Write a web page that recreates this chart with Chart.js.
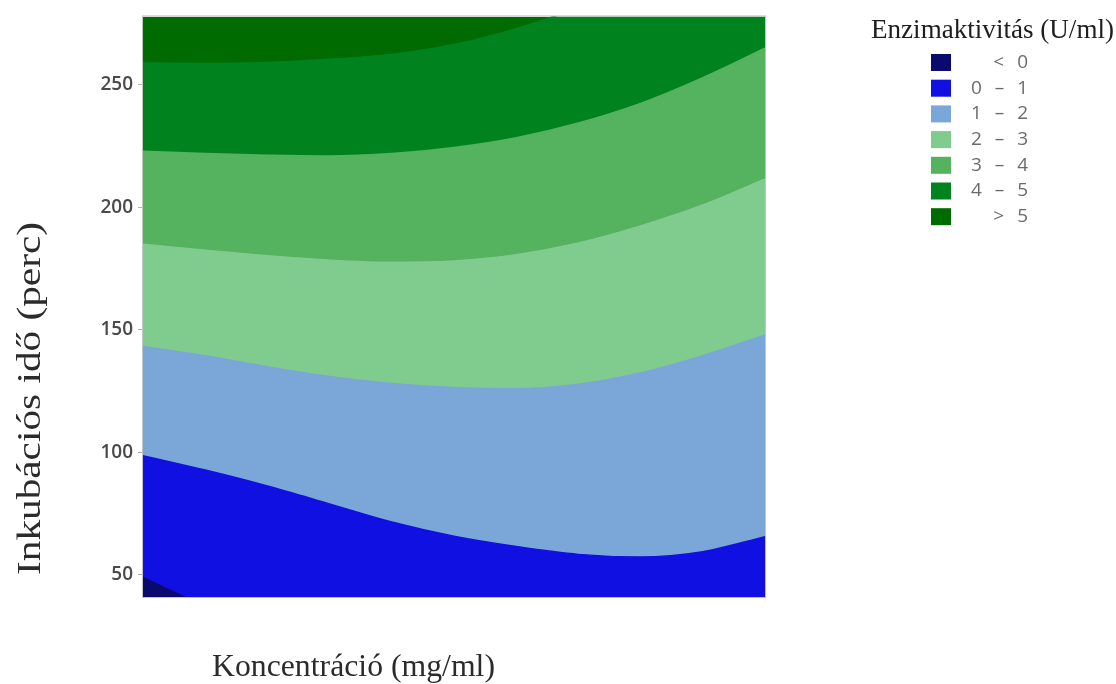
<!DOCTYPE html>
<html>
<head>
<meta charset="utf-8">
<script src="https://cdn.jsdelivr.net/npm/chart.js@4.4.1/dist/chart.umd.min.js"></script>
<style>
  html, body { margin: 0; padding: 0; background: #fff; }
  #wrap { width: 1116px; height: 684px; }
</style>
</head>
<body>
<div id="wrap"><canvas id="contour"></canvas></div>
<script>
// concentration grid (the x axis shows no tick labels)
const concentration = [0, 1, 2, 3, 4, 5, 6, 7, 8, 9, 10];
const yTicks = [50, 100, 150, 200, 250];

// incubation time (perc) where the enzyme activity crosses 0, 1, 2, 3, 4, 5 U/ml
const level0 = [49, 37, 25, 13, 1, -11, -23, -35, -47, -59, -71];
const level1 = [98.7, 92.8, 86.3, 79.0, 71.6, 65.8, 61.6, 58.4, 57.3, 59.5, 65.6];
const level2 = [143.3, 139.5, 135, 131, 128.2, 126.5, 126, 127.8, 132.5, 139.5, 148];
const level3 = [185, 182.5, 180.3, 178.5, 177.6, 178.2, 180.7, 185.5, 192.5, 201, 211.6];
const level4 = [223, 222, 221.3, 221, 222, 224.5, 228.5, 234.5, 242.5, 253, 265];
const level5 = [259, 258.8, 259.2, 260.5, 262.5, 266.5, 273, 281.5, 291, 301, 312];

const bandLabels = ['< 0', '0 – 1', '1 – 2', '2 – 3', '3 – 4', '4 – 5', '> 5'];
const bandColors = ['#0a0a6e', '#1010e2', '#7ba6d8', '#80cc8e', '#55b25e', '#00831f', '#006b00'];

// each band is filled between its lower and upper contour line
const boundaries = [level0, level1, level2, level3, level4, level5, level5];
const datasets = boundaries.map((lvl, i) => ({
    label: bandLabels[i],
    data: concentration.map((c, j) => ({ x: c, y: lvl[j] })),
    fill: i === 0 ? 'start' : (i === boundaries.length - 1 ? 'end' : '-1'),
    backgroundColor: bandColors[i],
    borderColor: bandColors[i],
    borderWidth: 1.5,
    pointRadius: 0,
    cubicInterpolationMode: 'monotone',
    clip: 0
}));

// text drawn squeezed/stretched to the width it takes in the picture
function fitText(ctx, text, x, y, width, font) {
    ctx.font = font;
    const w = ctx.measureText(text).width;
    ctx.save();
    ctx.translate(x, y);
    ctx.scale(width / w, 1);
    ctx.fillText(text, 0, 0);
    ctx.restore();
}

const decorations = {
    id: 'decorations',
    afterDraw(chart) {
        const ctx = chart.ctx;
        const area = chart.chartArea;
        ctx.save();

        // plot frame
        ctx.strokeStyle = '#c4c4c4';
        ctx.lineWidth = 1;
        ctx.strokeRect(area.left - 0.5, area.top - 0.5, area.right - area.left + 1, area.bottom - area.top + 1);

        // axis titles
        ctx.fillStyle = '#2b2b2b';
        ctx.textAlign = 'left';
        ctx.textBaseline = 'alphabetic';
        fitText(ctx, 'Koncentráció (mg/ml)', 212, 676, 283, '31px "Liberation Serif"');

        ctx.save();
        ctx.translate(40, 575);
        ctx.rotate(-Math.PI / 2);
        fitText(ctx, 'Inkubációs idő (perc)', 0, 0, 353, '34px "Liberation Serif"');
        ctx.restore();

        // legend
        ctx.fillStyle = '#1e1e1e';
        fitText(ctx, 'Enzimaktivitás (U/ml)', 871, 38, 243, '27px "Liberation Serif"');

        ctx.font = '19px "Open Sans"';
        ctx.textAlign = 'right';
        ctx.textBaseline = 'middle';
        ctx.letterSpacing = '4px';
        bandLabels.forEach((lab, i) => {
            const cy = 62.5 + i * 25.7;
            ctx.fillStyle = bandColors[i];
            ctx.fillRect(931, cy - 8.5, 20, 17);
            ctx.fillStyle = '#6b6b6b';
            ctx.fillText(lab, 1032, cy);
        });
        ctx.restore();
    }
};

new Chart(document.getElementById('contour'), {
    type: 'line',
    data: { datasets },
    options: {
        responsive: true,
        maintainAspectRatio: false,
        animation: false,
        layout: { padding: { left: 0, top: 15, right: 351, bottom: 0 } },
        plugins: {
            legend: { display: false },
            tooltip: { enabled: false }
        },
        scales: {
            x: {
                type: 'linear',
                min: 0,
                max: 10,
                ticks: { display: false },
                grid: { display: false },
                border: { display: false },
                afterFit: (axis) => { axis.height = 87; }
            },
            y: {
                min: 41,
                max: 278,
                afterBuildTicks: (axis) => { axis.ticks = yTicks.map(v => ({ value: v })); },
                afterFit: (axis) => { axis.width = 143; },
                ticks: {
                    color: '#4a4a4a',
                    padding: 5,
                    font: { family: '"Open Sans"', size: 19, weight: '600' }
                },
                grid: { drawOnChartArea: false, tickLength: 5, color: '#b0b0b0' },
                border: { display: false }
            }
        }
    },
    plugins: [decorations]
});
</script>
</body>
</html>
